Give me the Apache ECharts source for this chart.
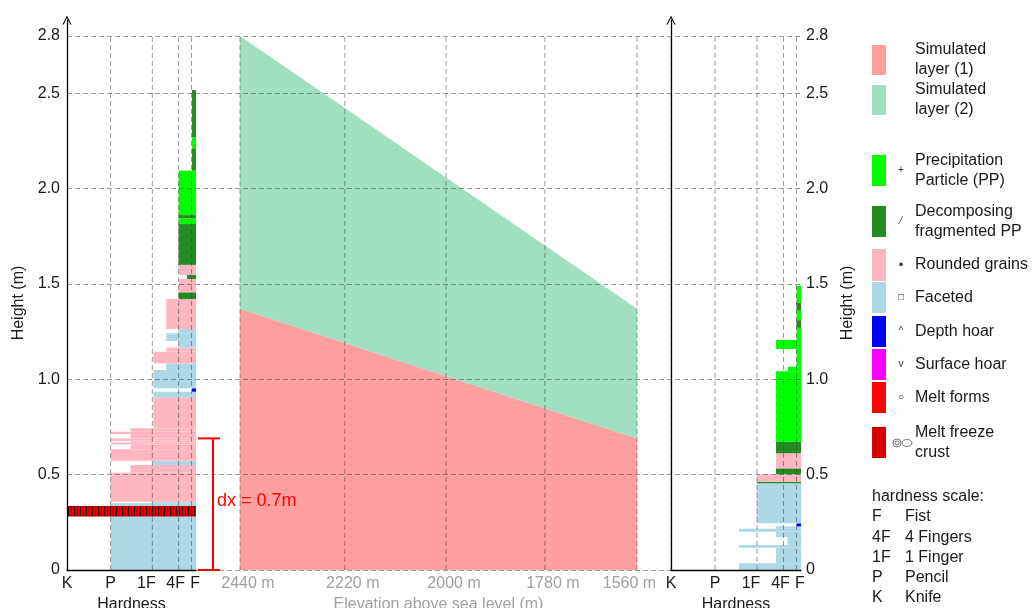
<!DOCTYPE html>
<html><head><meta charset="utf-8">
<script src="https://cdn.jsdelivr.net/npm/echarts@6/dist/echarts.min.js"></script>
<style>html,body{margin:0;padding:0;background:#fff}#c{width:1036px;height:608px}</style>
</head><body><div id="c"></div>
<script>
// ================= DATA =================
const hardnessLabels = ['K', 'P', '1F', '4F', 'F'];
const hardnessTicks = [130, 86, 44, 17.5, 4.5];           // hardness index (0 = snow surface side)
const heightMin = 0, heightMax = 2.8, heightStep = 0.5;
const elevationLabels = ['2440 m', '2220 m', '2000 m', '1780 m', '1560 m'];
const elevationTickPos = [0, 0.264, 0.519, 0.768, 1];      // relative position along the transect
const transectEnds = [0, 1];                                // 2440 m end, 1560 m end
const simLayer1Thickness = [1.37, 0.69];                    // at 2440 m and 1560 m
const simLayer2Thickness = [1.43, 0.68];
const dxPosition = -0.068, dxBottom = 0, dxTop = 0.69, dxText = 'dx = 0.7m';
const grainCodes = ['PP', 'DF', 'RG', 'FC', 'DH', 'SH', 'MF', 'MFcr'];
const grainNames = ['Precipitation\nParticle (PP)', 'Decomposing\nfragmented PP', 'Rounded grains', 'Faceted',
  'Depth hoar', 'Surface hoar', 'Melt forms', 'Melt freeze\ncrust'];
const grainSymbols = ['+', '\u2044', '\u2022', '\u25A1', '^', 'v', '\u25CB', ''];
const simNames = ['Simulated\nlayer (1)', 'Simulated\nlayer (2)'];
const hardnessScaleTitle = 'hardness scale:';
const hardnessScaleCodes = ['F', '4F', '1F', 'P', 'K'];
const hardnessScaleNames = ['Fist', '4 Fingers', '1 Finger', 'Pencil', 'Knife'];
// [bottom (m), top (m), hardness index, grain type]
const leftProfile = [
  [0.000, 0.280, 86, 'FC'], [0.280, 0.336, 130, 'MFcr'], [0.336, 0.350, 86, 'FC'], [0.350, 0.358, 44, 'FC'],
  [0.358, 0.510, 86, 'RG'], [0.510, 0.551, 66, 'RG'], [0.551, 0.573, 44, 'FC'], [0.573, 0.633, 86, 'RG'],
  [0.633, 0.659, 66, 'RG'], [0.659, 0.668, 86, 'RG'], [0.668, 0.678, 66, 'RG'], [0.678, 0.690, 86, 'RG'],
  [0.690, 0.713, 66, 'RG'], [0.713, 0.725, 86, 'RG'], [0.725, 0.743, 66, 'RG'], [0.743, 0.906, 43, 'RG'],
  [0.906, 0.935, 43, 'FC'], [0.935, 0.953, 4, 'DH'], [0.953, 1.049, 43, 'FC'], [1.049, 1.084, 30, 'FC'],
  [1.084, 1.145, 43, 'RG'], [1.145, 1.166, 30, 'RG'], [1.166, 1.201, 17.5, 'FC'], [1.201, 1.241, 30, 'FC'],
  [1.241, 1.264, 17.5, 'FC'], [1.264, 1.421, 30, 'RG'], [1.421, 1.456, 17.5, 'DF'], [1.456, 1.526, 17.5, 'RG'],
  [1.526, 1.547, 9, 'DF'], [1.547, 1.600, 17.5, 'RG'], [1.600, 1.814, 17.5, 'DF'], [1.814, 1.844, 17.5, 'PP'],
  [1.844, 1.861, 17.5, 'DF'], [1.861, 2.094, 17.5, 'PP'], [2.094, 2.211, 4, 'DF'], [2.211, 2.269, 4, 'PP'],
  [2.269, 2.517, 4, 'DF']
];
const rightProfile = [
  [0.000, 0.035, 62, 'FC'], [0.035, 0.117, 25, 'FC'], [0.117, 0.131, 62, 'FC'], [0.131, 0.173, 13.5, 'FC'],
  [0.173, 0.201, 25, 'FC'], [0.201, 0.216, 62, 'FC'], [0.216, 0.229, 25, 'FC'], [0.229, 0.245, 4.5, 'DH'],
  [0.245, 0.455, 44, 'FC'], [0.455, 0.463, 44, 'DF'], [0.463, 0.502, 44, 'RG'], [0.502, 0.533, 25, 'DF'],
  [0.533, 0.612, 25, 'RG'], [0.612, 0.673, 25, 'DF'], [0.673, 1.042, 25, 'PP'], [1.042, 1.066, 13, 'PP'],
  [1.066, 1.159, 4.5, 'PP'], [1.159, 1.206, 25, 'PP'], [1.206, 1.270, 4.5, 'PP'], [1.270, 1.310, 4.5, 'DF'],
  [1.310, 1.360, 4.5, 'PP'], [1.360, 1.400, 4.5, 'DF'], [1.400, 1.490, 4.5, 'PP']
];

// ================= STYLE =================
const FONT = "'Liberation Sans', Arial, sans-serif";
const TXT = '#1a1a1a';
const GRID_COLOR = 'rgba(60,60,60,0.5)';
const DASH = [5, 3];
function stripes(period, dark) {
  const c = document.createElement('canvas');
  c.width = period; c.height = 4;
  const g = c.getContext('2d');
  g.fillStyle = '#dd0000'; g.fillRect(0, 0, period, 4);
  g.fillStyle = '#3c0000'; g.fillRect(period - dark, 0, dark, 4);
  return { image: c, repeat: 'repeat' };
}
const grainColors = {
  PP: '#00ff00', DF: '#228b22', RG: '#ffb6c1', FC: '#add8e6', DH: '#0000ff',
  SH: '#ff00ff', MF: '#ff0000', MFcr: stripes(3, 1)
};
const legendCrust = stripes(4, 1);
const simColors = ['#ff9f9f', '#a0e0c0'];
const hardShift = [0, 0, -6, -3, 3.5];
const elevShift = [8, 8, 8, 8, -7.5];

function nearest(arr, v) {
  let bi = 0, bd = Infinity;
  arr.forEach((a, i) => { const d = Math.abs(a - v); if (d < bd) { bd = d; bi = i; } });
  return bi;
}
function richFor(shifts, color) {
  const r = {};
  shifts.forEach((s, i) => {
    r['s' + i] = { fontSize: 16, fontFamily: FONT, color: color,
      padding: [0, s < 0 ? -2 * s : 0, 0, s > 0 ? 2 * s : 0] };
  });
  return r;
}

const layerRender = (params, api) => {
  const tl = api.coord([api.value(0), api.value(2)]);
  const br = api.coord([0, api.value(1)]);
  return { type: 'rect',
    shape: { x: tl[0], y: tl[1], width: br[0] - tl[0], height: br[1] - tl[1] },
    style: { fill: grainColors[grainCodes[api.value(3)]] } };
};
const vGridRender = (params, api) => {
  const a = api.coord([api.value(0), heightMin]);
  const b = api.coord([api.value(0), heightMax]);
  return { type: 'line', shape: { x1: a[0], y1: a[1], x2: b[0], y2: b[1] },
    style: { stroke: GRID_COLOR, lineWidth: 1, lineDash: DASH } };
};
const toLayerData = prof => prof.map(r => [r[2], r[0], r[1], grainCodes.indexOf(r[3])]);
// simulated layer polygon: [pos0, pos1, lower0, lower1, upper0, upper1]
const simRender = color => (params, api) => {
  const p = [api.coord([api.value(0), api.value(2)]), api.coord([api.value(1), api.value(3)]),
             api.coord([api.value(1), api.value(5)]), api.coord([api.value(0), api.value(4)])];
  return { type: 'polygon', shape: { points: p }, style: { fill: color } };
};
const simData1 = [[transectEnds[0], transectEnds[1], 0, 0, simLayer1Thickness[0], simLayer1Thickness[1]]];
const simData2 = [[transectEnds[0], transectEnds[1], simLayer1Thickness[0], simLayer1Thickness[1],
  simLayer1Thickness[0] + simLayer2Thickness[0], simLayer1Thickness[1] + simLayer2Thickness[1]]];

const ARROW = 'path://M0,10L5,0L10,10L8.6,10L5,2.6L1.4,10Z';
const gridBase = { containLabel: false, outerBoundsMode: 'none' };
const hiddenY = gi => ({ type: 'value', gridIndex: gi, min: heightMin, max: heightMax, show: false });
const hardAxis = gi => ({
  type: 'value', gridIndex: gi, inverse: true, min: 0, max: 130, z: 6,
  axisLine: { show: true, onZero: false, lineStyle: { color: '#000', width: 1.3 } },
  axisTick: { show: false }, splitLine: { show: false },
  axisLabel: { customValues: hardnessTicks, margin: 6, color: TXT, fontSize: 16, fontFamily: FONT,
    formatter: v => { const i = nearest(hardnessTicks, v); return '{s' + i + '|' + hardnessLabels[i] + '}'; },
    rich: richFor(hardShift, TXT) },
  name: 'Hardness', nameLocation: 'middle', nameGap: 25,
  nameTextStyle: { color: TXT, fontSize: 16, fontFamily: FONT }
});
const arrowY = (gi, pos) => ({
  type: 'value', gridIndex: gi, position: pos, min: 0, max: 1, z: 6,
  axisLine: { show: true, lineStyle: { color: '#000', width: 1.3 }, symbol: ['none', ARROW], symbolSize: [9, 10] },
  axisTick: { show: false }, axisLabel: { show: false }, splitLine: { show: false }
});
const yLabelFmt = v => (v === 0 ? '0' : v.toFixed(1));

// ================= LEGEND (graphic) =================
const swatches = [[45, 30], [85, 30], [155, 31], [206, 31], [249, 32], [282, 31], [316, 31], [349, 31], [382, 31], [427, 31]];
const legendFills = [simColors[0], simColors[1]].concat(grainCodes.map(c => c === 'MFcr' ? legendCrust : grainColors[c]));
const legendTexts = simNames.concat(grainNames);
const legendSyms = ['', ''].concat(grainSymbols);
const graphic = [];
swatches.forEach((s, i) => {
  graphic.push({ type: 'rect', left: 872, top: s[0], shape: { width: 14, height: s[1] }, style: { fill: legendFills[i] } });
  const cy = s[0] + s[1] / 2;
  graphic.push({ type: 'text', x: 915, y: cy, style: { text: legendTexts[i], fill: TXT, font: '16px ' + FONT,
    lineHeight: 20, align: 'left', verticalAlign: 'middle', textAlign: 'left', textVerticalAlign: 'middle' } });
  if (legendSyms[i]) {
    const big = legendSyms[i] === '\u2022';
    graphic.push({ type: 'text', x: 901, y: cy, style: { text: legendSyms[i], fill: '#333',
      font: (big ? '13px ' : '10px ') + FONT, align: 'center', verticalAlign: 'middle', textAlign: 'center', textVerticalAlign: 'middle' } });
  }
});
// melt-freeze crust symbol
graphic.push({ type: 'circle', shape: { cx: 897, cy: 443, r: 4 }, style: { fill: 'none', stroke: '#555', lineWidth: 0.8 } });
graphic.push({ type: 'circle', shape: { cx: 897, cy: 443, r: 2 }, style: { fill: 'none', stroke: '#555', lineWidth: 0.8 } });
graphic.push({ type: 'ellipse', shape: { cx: 907, cy: 443, rx: 5, ry: 3.5 }, style: { fill: 'none', stroke: '#555', lineWidth: 0.8 } });
graphic.push({ type: 'text', x: 872, y: 497, style: { text: hardnessScaleTitle, fill: TXT, font: '16px ' + FONT,
  verticalAlign: 'middle', textVerticalAlign: 'middle' } });
const hsRows = [517, 537.5, 557.5, 578, 598];
hardnessScaleCodes.forEach((c, i) => {
  graphic.push({ type: 'text', x: 872, y: hsRows[i], style: { text: c, fill: TXT, font: '16px ' + FONT, verticalAlign: 'middle', textVerticalAlign: 'middle' } });
  graphic.push({ type: 'text', x: 905, y: hsRows[i], style: { text: hardnessScaleNames[i], fill: TXT, font: '16px ' + FONT, verticalAlign: 'middle', textVerticalAlign: 'middle' } });
});

// ================= OPTION =================
const option = {
  animation: false,
  backgroundColor: '#fff',
  textStyle: { fontFamily: FONT },
  grid: [
    Object.assign({ left: 67, top: 36, width: 734, height: 534 }, gridBase),   // 0 background (height grid)
    Object.assign({ left: 67, top: 36, width: 129, height: 534 }, gridBase),   // 1 left profile
    Object.assign({ left: 240, top: 36, width: 397, height: 534 }, gridBase),  // 2 transect
    Object.assign({ left: 671, top: 36, width: 130, height: 534 }, gridBase),  // 3 right profile
    Object.assign({ left: 67, top: 20, width: 129, height: 550 }, gridBase),   // 4 left arrow axis
    Object.assign({ left: 671, top: 20, width: 130, height: 550 }, gridBase)   // 5 right arrow axis
  ],
  xAxis: [
    { type: 'value', gridIndex: 0, min: 0, max: 1, show: false },
    hardAxis(1),
    { type: 'value', gridIndex: 2, min: 0, max: 1,
      axisLine: { show: false }, axisTick: { show: false }, splitLine: { show: false },
      axisLabel: { customValues: elevationTickPos, margin: 6, color: '#a0a0a0', fontSize: 16, fontFamily: FONT,
        formatter: v => { const i = nearest(elevationTickPos, v); return '{s' + i + '|' + elevationLabels[i] + '}'; },
        rich: richFor(elevShift, '#a0a0a0') },
      name: 'Elevation above sea level (m)', nameLocation: 'middle', nameGap: 21,
      nameTextStyle: { color: '#a0a0a0', fontSize: 16, fontFamily: FONT } },
    hardAxis(3),
    { type: 'value', gridIndex: 4, min: 0, max: 1, show: false },
    { type: 'value', gridIndex: 5, min: 0, max: 1, show: false }
  ],
  yAxis: [
    { type: 'value', gridIndex: 0, position: 'left', min: heightMin, max: heightMax, interval: heightStep, z: 5,
      axisLine: { show: false }, axisTick: { show: false },
      axisLabel: { margin: 7, color: TXT, fontSize: 16, fontFamily: FONT, formatter: yLabelFmt },
      splitLine: { show: true, lineStyle: { color: GRID_COLOR, width: 1, type: DASH } },
      name: 'Height (m)', nameLocation: 'middle', nameRotate: 90, nameGap: 39,
      nameTextStyle: { color: TXT, fontSize: 16, fontFamily: FONT } },
    { type: 'value', gridIndex: 0, position: 'right', min: heightMin, max: heightMax, interval: heightStep, z: 5,
      axisLine: { show: false }, axisTick: { show: false }, splitLine: { show: false },
      axisLabel: { margin: 5, color: TXT, fontSize: 16, fontFamily: FONT, formatter: yLabelFmt },
      name: 'Height (m)', nameLocation: 'middle', nameRotate: 90, nameGap: 39,
      nameTextStyle: { color: TXT, fontSize: 16, fontFamily: FONT } },
    hiddenY(1), hiddenY(2), hiddenY(3),
    arrowY(4, 'left'), arrowY(5, 'right')
  ],
  graphic: graphic,
  series: [
    { type: 'custom', name: 'Simulated layer (1)', xAxisIndex: 2, yAxisIndex: 3, z: 2,
      encode: { x: [0, 1], y: [2, 3, 4, 5] }, renderItem: simRender(simColors[0]), data: simData1 },
    { type: 'custom', name: 'Simulated layer (2)', xAxisIndex: 2, yAxisIndex: 3, z: 2,
      encode: { x: [0, 1], y: [2, 3, 4, 5] }, renderItem: simRender(simColors[1]), data: simData2 },
    { type: 'custom', name: 'left profile', xAxisIndex: 1, yAxisIndex: 2, z: 2, clip: false,
      encode: { x: 0, y: [1, 2] }, renderItem: layerRender, data: toLayerData(leftProfile) },
    { type: 'custom', name: 'right profile', xAxisIndex: 3, yAxisIndex: 4, z: 2, clip: false,
      encode: { x: 0, y: [1, 2] }, renderItem: layerRender, data: toLayerData(rightProfile) },
    { type: 'custom', xAxisIndex: 1, yAxisIndex: 2, z: 5, encode: { x: 0 }, renderItem: vGridRender, data: hardnessTicks.slice(1).map(v => [v]) },
    { type: 'custom', xAxisIndex: 3, yAxisIndex: 4, z: 5, encode: { x: 0 }, renderItem: vGridRender, data: hardnessTicks.map(v => [v]) },
    { type: 'custom', xAxisIndex: 2, yAxisIndex: 3, z: 5, encode: { x: 0 }, renderItem: vGridRender, data: elevationTickPos.map(v => [v]) },
    { type: 'custom', xAxisIndex: 2, yAxisIndex: 3, z: 7, clip: false, encode: { x: 0, y: [1, 2] },
      data: [[dxPosition, dxBottom, dxTop]],
      renderItem: (params, api) => {
        const b = api.coord([api.value(0), api.value(1)]);
        const t = api.coord([api.value(0), api.value(2)]);
        const st = { stroke: '#ff0000', lineWidth: 2 };
        return { type: 'group', children: [
          { type: 'line', shape: { x1: b[0], y1: b[1], x2: t[0], y2: t[1] }, style: st },
          { type: 'line', shape: { x1: t[0] - 15, y1: t[1], x2: t[0] + 7, y2: t[1] }, style: st },
          { type: 'line', shape: { x1: b[0] - 15, y1: b[1], x2: b[0] + 7, y2: b[1] }, style: st },
          { type: 'text', style: { text: dxText, x: b[0] + 4, y: (b[1] + t[1]) / 2 - 3, fill: '#ff0000',
            font: '18px ' + FONT, align: 'left', verticalAlign: 'middle' } }
        ] };
      } }
  ]
};
const chart = echarts.init(document.getElementById('c'), null, { renderer: 'canvas' });
chart.setOption(option);
</script></body></html>
